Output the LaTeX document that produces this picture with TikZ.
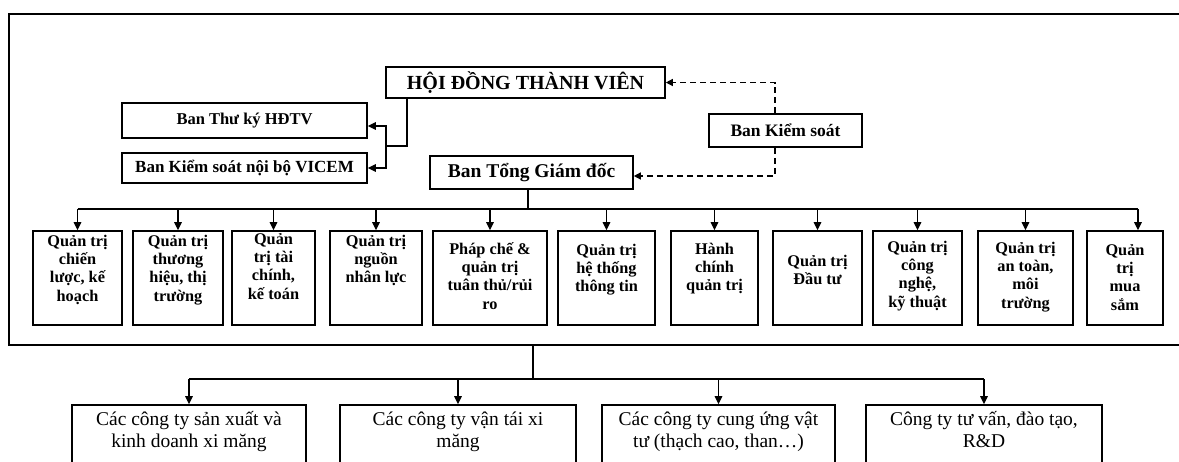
\documentclass[tikz,border=0pt]{standalone}
\usepackage{fontspec}
\setmainfont{Liberation Serif}
\usetikzlibrary{arrows.meta,calc}
\tikzset{
  box/.style={draw, line width=1.6pt, rectangle, inner sep=0pt, align=center},
  rowbox/.style={box, minimum height=94pt},
  rowtxt/.style={align=center, inner sep=0pt, anchor=north, font=\fontsize{16.3}{18.3}\selectfont\bfseries},
  botbox/.style={box, minimum height=75pt},
  bottxt/.style={align=center, inner sep=0pt, anchor=north, font=\fontsize{19.5}{22}\selectfont},
  conn/.style={line width=1.4pt},
  arr/.style={conn, -{Triangle[length=8pt,width=7.5pt]}},
  darr/.style={line width=1.3pt, dash pattern=on 6pt off 4pt, -{Triangle[length=7pt,width=7pt]}},
  frameline/.style={line width=2pt},
}
\newcommand\rbx[5]{%
  \node[rowbox, minimum width={#3-#2}] (#1) at ({(#2+#3)/2},278) {};
  \node[rowtxt] (#1t) at ({(#2+#3)/2},{#4-8.8}) {\strut #5};
}
\newcommand\bbx[4]{%
  \node[botbox, minimum width={#3-#2}] (#1) at ({(#2+#3)/2},442.5) {};
  \node[bottxt] (#1t) at ({(#2+#3)/2},409.5) {\strut #4};
}
\begin{document}
\begin{tikzpicture}[x=1pt,y=-1pt]
\useasboundingbox (0,0) rectangle (1179,461);
\fill[white] (0,0) rectangle (1179,461);

% outer frame (right side lies beyond the picture)
\draw[frameline] (1179,14) -- (9,14) -- (9,345) -- (1179,345);

% top boxes
\node[box, minimum width=279pt, minimum height=31pt, font=\fontsize{20}{22}\selectfont\bfseries] (hdtv) at (525.5,82.5) {HỘI ĐỒNG THÀNH VIÊN};
\node[box, minimum width=245pt, minimum height=35pt, font=\fontsize{16.5}{18}\selectfont\bfseries] (thuky) at (244.5,120.5) {Ban Thư ký HĐTV};
\node[box, minimum width=245pt, minimum height=30pt, font=\fontsize{17}{18}\selectfont\bfseries] (ksnb) at (244.5,168) {Ban Kiểm soát nội bộ VICEM};
\node[box, minimum width=203pt, minimum height=33pt, font=\fontsize{19.5}{20}\selectfont\bfseries] (tgd) at (531.5,172.5) {Ban Tổng Giám đốc};
\node[box, minimum width=153pt, minimum height=33pt, font=\fontsize{17.5}{19}\selectfont\bfseries] (bks) at (785.5,130.5) {Ban Kiểm soát};

% HDTV -> secretary / internal audit
\coordinate (j1) at (386,146);
\draw[conn] ([xshift=-118.5pt]hdtv.south) |- (j1);
\draw[arr] (j1) |- ([yshift=-5.5pt]thuky.east);
\draw[arr] (j1) |- (ksnb.east);

% supervisory board dashed links
\draw[darr] ([xshift=-10.5pt]bks.north) |- (hdtv.east);
\draw[darr] ([xshift=-10.5pt]bks.south) |- ([yshift=-3.5pt]tgd.east);

% row of departments
\rbx{r1}{33}{122}{242}{Quản trị\\chiến\\lược, kế\\hoạch}
\rbx{r2}{133}{223}{242}{Quản trị\\thương\\hiệu, thị\\trường}
\rbx{r3}{232}{315}{240}{Quản\\trị tài\\chính,\\kế toán}
\rbx{r4}{330}{422}{242}{Quản trị\\nguồn\\nhân lực}
\rbx{r5}{433}{547}{250}{Pháp chế \&\\quản trị\\tuân thủ/rủi\\ro}
\rbx{r6}{558}{655}{251}{Quản trị\\hệ thống\\thông tin}
\rbx{r7}{671}{758}{250}{Hành\\chính\\quản trị}
\rbx{r8}{773}{862}{262}{Quản trị\\Đầu tư}
\rbx{r9}{873}{962}{248}{Quản trị\\công\\nghệ,\\kỹ thuật}
\rbx{r10}{978}{1073}{249}{Quản trị\\an toàn,\\môi\\trường}
\rbx{r11}{1087}{1163}{251}{Quản\\trị\\mua\\sắm}

\coordinate (bus) at (0,209);
\draw[conn] ([xshift=-3.5pt]tgd.south) -- ([xshift=-3.5pt]tgd.south |- bus);
\draw[conn] (r1.north |- bus) -- ([xshift=13pt]r11.north |- bus);
\foreach \r in {r1,r2,r3,r4,r5,r6,r7,r8,r9,r10}
  \draw[arr] (\r.north |- bus) -- (\r.north);
\draw[arr] ([xshift=13pt]r11.north |- bus) -- ([xshift=13pt]r11.north);

% bottom companies
\bbx{b1}{72}{306}{Các công ty sản xuất và\\kinh doanh xi măng}
\bbx{b2}{340}{576}{Các công ty vận tái xi\\măng}
\bbx{b3}{602}{835}{Các công ty cung ứng vật\\tư (thạch cao, than…)}
\bbx{b4}{866}{1102}{Công ty tư vấn, đào tạo,\\R\&D}

\coordinate (fb) at (533,345);
\coordinate (bus2) at (0,379);
\draw[conn] (fb) -- (fb |- bus2);
\draw[conn] (b1.north |- bus2) -- (b4.north |- bus2);
\foreach \b in {b1,b2,b3,b4}
  \draw[arr] (\b.north |- bus2) -- (\b.north);
\end{tikzpicture}
\end{document}
